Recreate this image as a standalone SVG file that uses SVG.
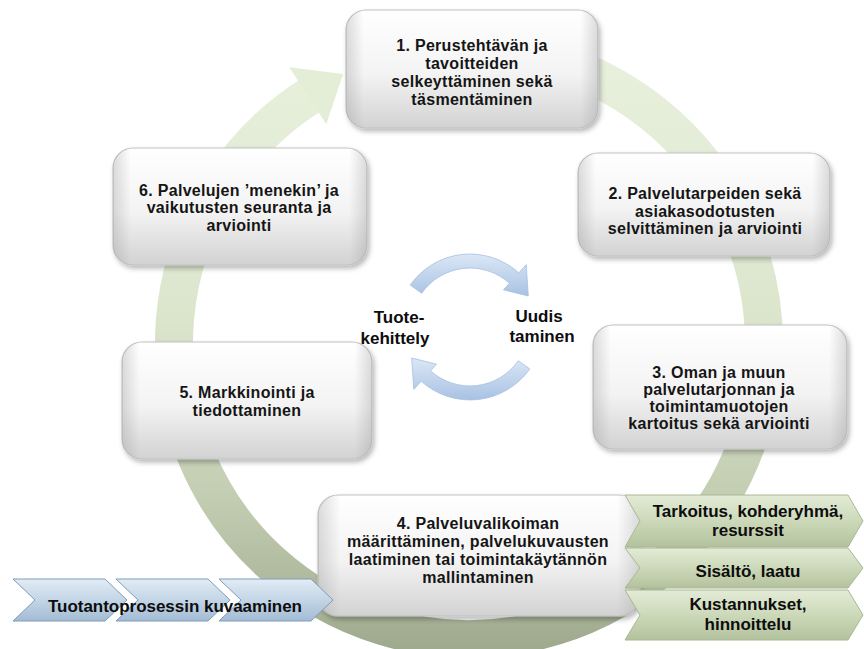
<svg xmlns="http://www.w3.org/2000/svg" width="864" height="649" viewBox="0 0 864 649">
<style>
.t{font-family:"Liberation Sans",Arial,sans-serif;font-size:16px;font-weight:bold;fill:#151515;text-anchor:middle;letter-spacing:0.3px}
.g{font-family:"Liberation Sans",Arial,sans-serif;font-size:17px;font-weight:bold;fill:#0d0d0d;text-anchor:middle}
.c{font-family:"Liberation Sans",Arial,sans-serif;font-size:17px;font-weight:bold;fill:#0d0d0d;text-anchor:middle}
.box{fill:url(#ng);stroke:#c2c2c2;stroke-width:1.2;filter:url(#sh)}
.edge{fill:url(#ne);stroke:none}
.gch{fill:url(#gg);stroke:#a9b894;stroke-width:1}
.bch{fill:url(#bg);stroke:#7f9cb8;stroke-width:1}
.barr{fill:url(#ag);stroke:#a6bfdf;stroke-width:0.8}
</style>
<defs>
<linearGradient id="ng" x1="0" y1="0" x2="0" y2="1">
<stop offset="0" stop-color="#ffffff"/>
<stop offset="0.55" stop-color="#f3f3f3"/>
<stop offset="1" stop-color="#d2d2d2"/>
</linearGradient>
<linearGradient id="ne" x1="0" y1="0" x2="1" y2="0">
<stop offset="0" stop-color="#9a9a9a" stop-opacity="0.35"/>
<stop offset="0.07" stop-color="#9a9a9a" stop-opacity="0"/>
<stop offset="0.93" stop-color="#9a9a9a" stop-opacity="0"/>
<stop offset="1" stop-color="#9a9a9a" stop-opacity="0.35"/>
</linearGradient>
<linearGradient id="rg" gradientUnits="userSpaceOnUse" x1="0" y1="40" x2="0" y2="650">
<stop offset="0" stop-color="#e9f1de"/>
<stop offset="0.45" stop-color="#dce6cd"/>
<stop offset="0.75" stop-color="#c3cdb2"/>
<stop offset="1" stop-color="#9ea98e"/>
</linearGradient>
<linearGradient id="gg" x1="0" y1="0" x2="0" y2="1">
<stop offset="0" stop-color="#e3ebd6"/>
<stop offset="0.5" stop-color="#ccd9b9"/>
<stop offset="1" stop-color="#b3c29d"/>
</linearGradient>
<linearGradient id="bg" x1="0" y1="0" x2="0" y2="1">
<stop offset="0" stop-color="#e2ecf5"/>
<stop offset="0.5" stop-color="#c3d5e6"/>
<stop offset="1" stop-color="#a3bcd4"/>
</linearGradient>
<linearGradient id="ag" x1="0" y1="0" x2="0" y2="1">
<stop offset="0" stop-color="#dbe7f6"/>
<stop offset="1" stop-color="#a8c2e3"/>
</linearGradient>
<filter id="sh" x="-10%" y="-10%" width="125%" height="130%">
<feDropShadow dx="2" dy="3" stdDeviation="2.5" flood-color="#000" flood-opacity="0.28"/>
</filter>
</defs>
<rect width="864" height="649" fill="#ffffff"/>

<g id="connectors">
<path id="ring" d="M520.2,53.5 A295,295 0 1 1 312.7,93.8" fill="none" stroke="url(#rg)" stroke-width="38"/>
<path id="ring-head" d="M289.3,67.2 L343.1,73.9 L326.3,124.3 Z" fill="#e4eed7"/>
<path id="arrow-up" class="barr" d="M410.2,285.1 A73,73 0 0 1 518.8,272.8 L526.2,264.6 L528.3,296 L503.5,289.8 L509.5,283.2 A59,59 0 0 0 421.7,293.2 Z"/>
<path id="arrow-down" class="barr" d="M529.8,368.9 A73,73 0 0 1 421.2,381.2 L413.8,389.4 L411.7,358 L436.5,364.2 L430.5,370.8 A59,59 0 0 0 518.3,360.8 Z"/>
</g>

<g id="node1">
<rect class="box" x="346" y="10" width="252" height="118" rx="20"/>
<rect class="edge" x="346" y="10" width="252" height="118" rx="20"/>
<text class="t" x="472" y="51">1. Perustehtävän ja</text>
<text class="t" x="472" y="69">tavoitteiden</text>
<text class="t" x="472" y="87">selkeyttäminen sekä</text>
<text class="t" x="472" y="105">täsmentäminen</text>
</g>

<g id="node2">
<rect class="box" x="578" y="153" width="252" height="103" rx="20"/>
<rect class="edge" x="578" y="153" width="252" height="103" rx="20"/>
<text class="t" x="705" y="199">2. Palvelutarpeiden sekä</text>
<text class="t" x="705" y="217">asiakasodotusten</text>
<text class="t" x="705" y="234">selvittäminen ja arviointi</text>
</g>

<g id="node3">
<rect class="box" x="593" y="325" width="254" height="124" rx="20"/>
<rect class="edge" x="593" y="325" width="254" height="124" rx="20"/>
<text class="t" x="719" y="378">3. Oman ja muun</text>
<text class="t" x="719" y="395">palvelutarjonnan ja</text>
<text class="t" x="719" y="412">toimintamuotojen</text>
<text class="t" x="719" y="429">kartoitus sekä arviointi</text>
</g>

<g id="node6">
<rect class="box" x="113" y="148" width="254" height="117" rx="20"/>
<rect class="edge" x="113" y="148" width="254" height="117" rx="20"/>
<text class="t" x="239" y="196">6. Palvelujen ’menekin’ ja</text>
<text class="t" x="239" y="213">vaikutusten seuranta ja</text>
<text class="t" x="239" y="231">arviointi</text>
</g>

<g id="node5">
<rect class="box" x="122" y="342" width="250" height="117" rx="20"/>
<rect class="edge" x="122" y="342" width="250" height="117" rx="20"/>
<text class="t" x="247" y="398">5. Markkinointi ja</text>
<text class="t" x="247" y="416">tiedottaminen</text>
</g>

<g id="labels">
<text class="c" x="399" y="323">Tuote-</text>
<text class="c" x="395" y="344">kehittely</text>
<text class="c" x="539" y="322">Uudis</text>
<text class="c" x="542" y="342">taminen</text>
</g>

<g id="node4">
<rect class="box" x="318" y="495" width="322" height="121" rx="20"/>
<rect class="edge" x="318" y="495" width="322" height="121" rx="20"/>
<text class="t" x="478" y="529">4. Palveluvalikoiman</text>
<text class="t" x="478" y="547">määrittäminen, palvelukuvausten</text>
<text class="t" x="478" y="565">laatiminen tai toimintakäytännön</text>
<text class="t" x="478" y="583">mallintaminen</text>
</g>

<g id="detail1">
<path class="gch" d="M625,495 L848,495 L863,521 L848,547 L625,547 L640,521 Z"/>
<text class="g" x="748" y="517">Tarkoitus, kohderyhmä,</text>
<text class="g" x="748" y="536">resurssit</text>
</g>
<g id="detail2">
<path class="gch" d="M625,548 L848,548 L863,568 L848,588 L625,588 L640,568 Z"/>
<text class="g" x="748" y="577">Sisältö, laatu</text>
</g>
<g id="detail3">
<path class="gch" d="M625,590 L848,590 L863,615 L848,640 L625,640 L640,615 Z"/>
<text class="g" x="748" y="610">Kustannukset,</text>
<text class="g" x="748" y="630">hinnoittelu</text>
</g>

<g id="process">
<path class="bch" d="M13,579 L105,579 L127,600 L105,621 L13,621 L35,600 Z"/>
<path class="bch" d="M116,579 L208,579 L230,600 L208,621 L116,621 L138,600 Z"/>
<path class="bch" d="M219,579 L311,579 L333,600 L311,621 L219,621 L241,600 Z"/>
<text class="c" x="175" y="612" font-size="16" textLength="254">Tuotantoprosessin kuvaaminen</text>
</g>
</svg>
